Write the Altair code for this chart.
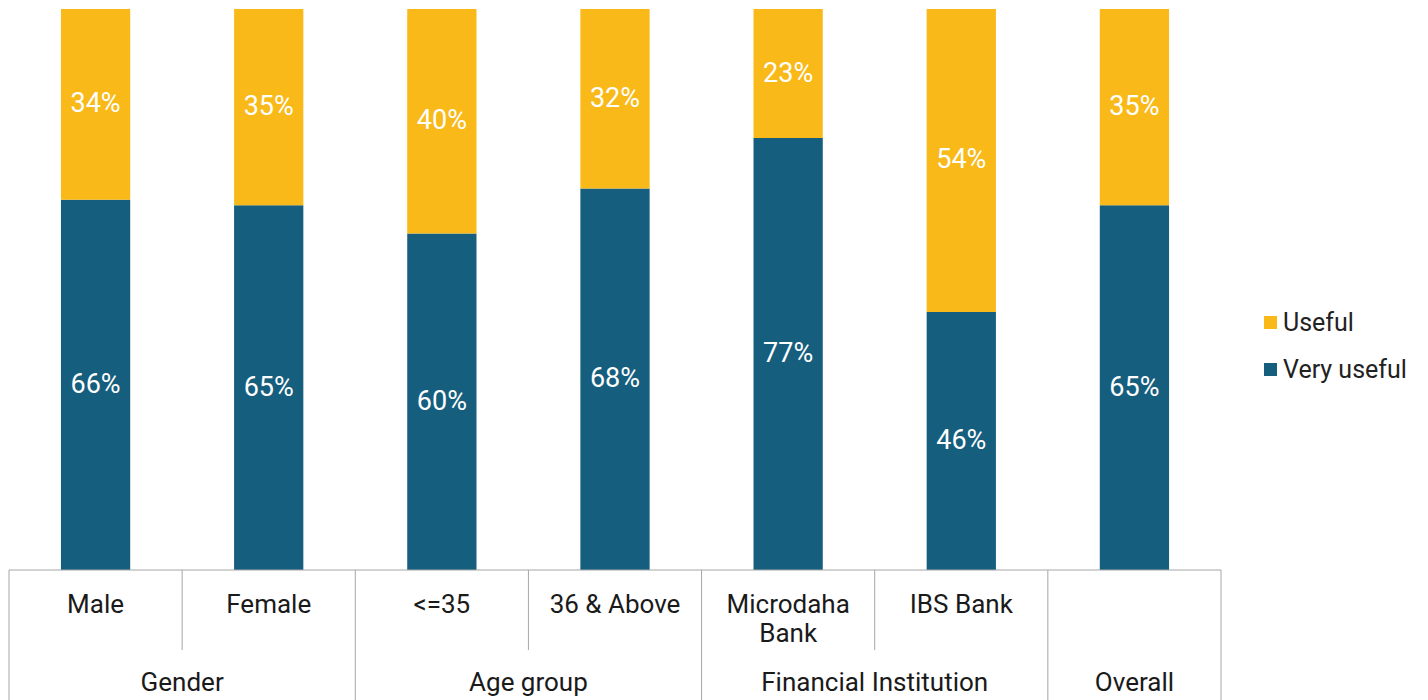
import altair as alt
import pandas as pd

# ---- data ----
categories = ["Male", "Female", "<=35", "36 & Above", "Microdaha Bank", "IBS Bank", "Overall"]
sub_labels = ["Male", "Female", "<=35", "36 & Above", "Microdaha\nBank", "IBS Bank", ""]
groups = ["Gender", "Gender", "Age group", "Age group", "Financial Institution", "Financial Institution", "Overall"]
very_useful = [66, 65, 60, 68, 77, 46, 65]
useful = [34, 35, 40, 32, 23, 54, 35]
series_names = ["Useful", "Very useful"]
series_colors = ["#F9B918", "#165E7D"]

# group boundaries (first category of each group) and inner separators
group_starts = ["Male", "<=35", "Microdaha Bank", "Overall"]
inner_starts = ["Female", "36 & Above", "IBS Bank"]
# group label anchors: two-member groups centred on the boundary between members
pair_groups = ["Gender", "Age group", "Financial Institution"]
pair_anchor = ["Female", "36 & Above", "IBS Bank"]
single_groups = ["Overall"]
single_anchor = ["Overall"]

W, H = 1212, 561
FONT = "Roboto"

rows = []
for c, v, u in zip(categories, very_useful, useful):
    rows.append({"cat": c, "series": "Very useful", "value": v, "ord": 0})
    rows.append({"cat": c, "series": "Useful", "value": u, "ord": 1})
df = pd.DataFrame(rows)

xscale = alt.Scale(domain=categories, paddingInner=0, paddingOuter=0)
yscale = alt.Scale(domain=[0, 100], nice=False)

bars = alt.Chart(df).mark_bar(width=alt.RelativeBandSize(0.4)).encode(
    x=alt.X("cat:N", scale=xscale, axis=None, title=None),
    y=alt.Y("value:Q", stack="zero", scale=yscale, axis=None, title=None),
    color=alt.Color(
        "series:N",
        scale=alt.Scale(domain=series_names, range=series_colors),
        legend=alt.Legend(
            title=None,
            orient="none",
            legendX=1249,
            legendY=301,
            symbolType="square",
            symbolSize=169,
            symbolStrokeWidth=0,
            labelFontSize=25,
            labelFont=FONT,
            labelColor="#222222",
            labelOffset=0,
            rowPadding=21,
        ),
    ),
    order=alt.Order("ord:Q"),
)

labels = (
    alt.Chart(df)
    .transform_stack(stack="value", as_=["v0", "v1"], groupby=["cat"], sort=[alt.SortField("ord")])
    .transform_calculate(mid="(datum.v0 + datum.v1) / 2", lab="datum.value + '%'")
    .mark_text(color="white", fontSize=27, font=FONT, baseline="middle", align="center")
    .encode(
        x=alt.X("cat:N", scale=xscale, axis=None),
        y=alt.Y("mid:Q", scale=yscale, axis=None),
        text="lab:N",
    )
)

LINE = "#A6A6A6"

top_line = alt.Chart(pd.DataFrame({"z": [0]})).mark_rule(color=LINE, strokeWidth=1).encode(
    x=alt.value(0), x2=alt.value(W), y=alt.value(H)
)

group_lines = alt.Chart(pd.DataFrame({"cat": group_starts})).mark_rule(color=LINE, strokeWidth=1).encode(
    x=alt.X("cat:N", scale=xscale, axis=None, bandPosition=0),
    y=alt.value(H), y2=alt.value(H + 131),
)
end_line = alt.Chart(pd.DataFrame({"cat": ["Overall"]})).mark_rule(color=LINE, strokeWidth=1).encode(
    x=alt.X("cat:N", scale=xscale, axis=None, bandPosition=1),
    y=alt.value(H), y2=alt.value(H + 131),
)
inner_lines = alt.Chart(pd.DataFrame({"cat": inner_starts})).mark_rule(color=LINE, strokeWidth=1).encode(
    x=alt.X("cat:N", scale=xscale, axis=None, bandPosition=0),
    y=alt.value(H), y2=alt.value(H + 80),
)

sub_text = alt.Chart(pd.DataFrame({"cat": categories, "lab": sub_labels})).mark_text(
    fontSize=26, font=FONT, color="#1a1a1a", align="center", baseline="alphabetic",
    lineBreak="\n", lineHeight=29,
).encode(
    x=alt.X("cat:N", scale=xscale, axis=None),
    y=alt.value(H + 43),
    text="lab:N",
)

pair_text = alt.Chart(pd.DataFrame({"cat": pair_anchor, "g": pair_groups})).mark_text(
    fontSize=26, font=FONT, color="#1a1a1a", align="center", baseline="alphabetic",
).encode(
    x=alt.X("cat:N", scale=xscale, axis=None, bandPosition=0),
    y=alt.value(H + 121),
    text="g:N",
)
single_text = alt.Chart(pd.DataFrame({"cat": single_anchor, "g": single_groups})).mark_text(
    fontSize=26, font=FONT, color="#1a1a1a", align="center", baseline="alphabetic",
).encode(
    x=alt.X("cat:N", scale=xscale, axis=None),
    y=alt.value(H + 121),
    text="g:N",
)

chart = (
    alt.layer(bars, labels, top_line, group_lines, end_line, inner_lines, sub_text, pair_text, single_text)
    .properties(
        width=W,
        height=H,
        autosize=alt.AutoSizeParams(type="none"),
        padding={"left": 1, "top": 1, "right": 199, "bottom": 131},
        view=alt.ViewBackground(stroke="#ffffff", strokeWidth=0, strokeOpacity=0),
    )
    .configure_view(strokeWidth=0, stroke="#ffffff", strokeOpacity=0)
    .configure(background="white")
)

chart.save("out.html", embed_options={"renderer": "svg", "actions": False})
